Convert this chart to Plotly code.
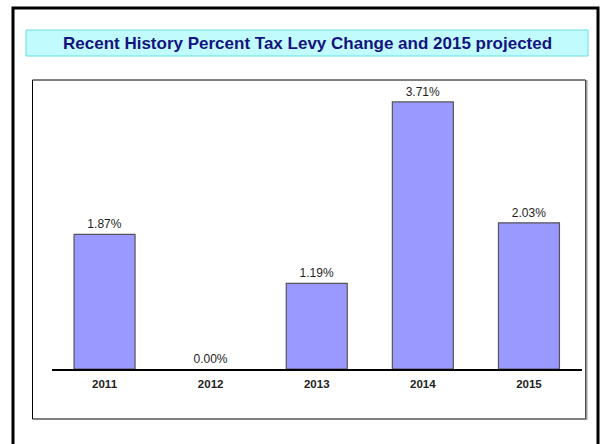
import plotly.graph_objects as go

# data
years = ["2011", "2012", "2013", "2014", "2015"]
levy_change = [1.87, 0.00, 1.19, 3.71, 2.03]
labels = ["1.87%", "0.00%", "1.19%", "3.71%", "2.03%"]
title_text = "Recent History Percent Tax Levy Change and 2015 projected"

W, H = 602, 444

def px(x):
  return x / W

def py(y):
  return 1 - y / H

# no outline on the empty 2012 bar, so it doesn't show on the axis line
outline_w = [0 if v == 0 else 1.2 for v in levy_change]

trace = go.Bar(
  x=years,
  y=levy_change,
  text=labels,
  textposition="outside",
  textfont=dict(family="Liberation Sans, Arial", size=12, color="#1e1e1e"),
  marker=dict(color="#9999ff", line=dict(color="#555555", width=outline_w)),
  cliponaxis=False,
  hoverinfo="x+y",
)

layout = go.Layout(
  width=W, height=H,
  margin=dict(t=0, b=0, l=0, r=0),
  paper_bgcolor="white",
  plot_bgcolor="white",
  showlegend=False,
  bargap=0.425,
  xaxis=dict(
    domain=[px(51.5), px(582)],
    anchor="y",
    showline=True, linecolor="#000000", linewidth=1.5,
    showgrid=False, zeroline=False,
    ticks="outside", ticklen=3, tickcolor="rgba(0,0,0,0)",
    tickfont=dict(family="Liberation Sans, Arial", size=11.5, color="#222222"),
    fixedrange=True,
  ),
  yaxis=dict(
    domain=[py(369), py(81)],
    range=[0, 4.0],
    visible=False,
    showgrid=False, zeroline=False,
    fixedrange=True,
  ),
  shapes=[
    # outer frame
    dict(type="rect", xref="paper", yref="paper",
         x0=px(13), x1=px(598), y0=py(460), y1=py(8),
         line=dict(color="#000000", width=3), fillcolor="rgba(0,0,0,0)", layer="below"),
    # title box
    dict(type="rect", xref="paper", yref="paper",
         x0=px(26), x1=px(588), y0=py(56), y1=py(30),
         line=dict(color="#66dede", width=1), fillcolor="#c2fbfd", layer="below"),
    # chart box shadow on the right edge
    dict(type="line", xref="paper", yref="paper",
         x0=px(586.5), x1=px(586.5), y0=py(420), y1=py(80),
         line=dict(color="#9a9a9a", width=2)),
    # chart box
    dict(type="rect", xref="paper", yref="paper",
         x0=px(32.5), x1=px(585.5), y0=py(419), y1=py(80),
         line=dict(color="#000000", width=1), fillcolor="rgba(0,0,0,0)", layer="below"),
  ],
  annotations=[
    dict(text="<b>" + title_text + "</b>", xref="paper", yref="paper",
         x=px(307), y=py(43.5), xanchor="center", yanchor="middle", showarrow=False,
         font=dict(family="Liberation Sans, Arial", size=17, color="#14147f")),
  ],
)

fig = go.Figure(data=[trace], layout=layout)
fig.update_xaxes(tickprefix="<b>", ticksuffix="</b>")
fig.write_html("out.html", config={"displayModeBar": False},
               post_script="document.body.style.margin='0';document.body.style.overflow='hidden';")
